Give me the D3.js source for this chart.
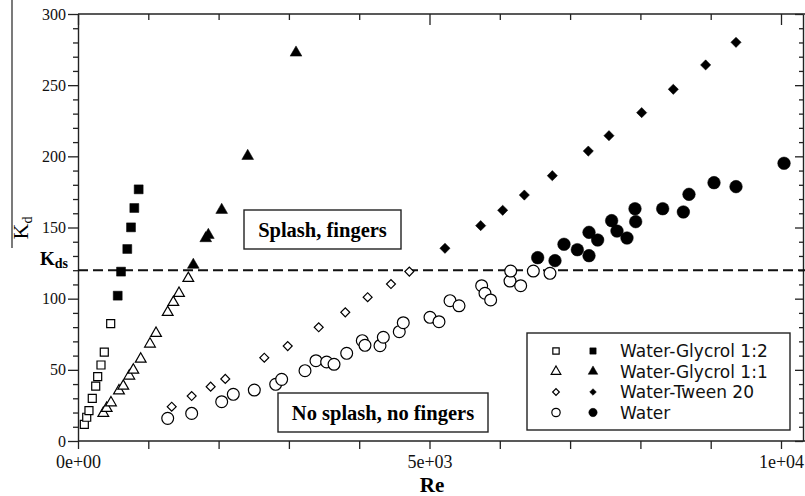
<meta charset="utf-8">
<style>
body { margin: 0; background: #fff; }
svg { display: block; }
.serif { font-family: "Liberation Serif", "Times New Roman", serif; }
.legend text { font-family: "DejaVu Sans", sans-serif; font-size: 17px; }
</style>
<body>
<script src="https://d3js.org/d3.v7.min.js"></script>
<script>
// data: [Re, Kd]
var wg12Open = [[90,11.7],[124,16.7],[156,21.3],[203,30],[252,38.6],[280,45.2],[327,53.4],[374,62.5],[465,82.4]];
var wg12Filled = [[565,102.1],[612,119],[701,134.9],[754,150.1],[801,163.7],[863,176.8]];
var wg11Open = [[360,19.5],[408,23],[469,26.9],[583,35.3],[644,38.6],[730,45.7],[787,49.9],[892,57.6],[1024,68.2],[1110,75.7],[1276,90.4],[1356,97.4],[1437,103.8],[1569,114.3]];
var wg11Filled = [[1640,123.7],[1817,142.4],[1854,144.7],[2044,162.3],[2414,200.2],[3101,272.8]];
var tweenOpen = [[1333,24.1],[1617,31.6],[1887,38.2],[2095,43.6],[2650,58.5],[2983,66.7],[3424,79.9],[3802,90.4],[4120,101],[4452,110.3],[4713,119]];
var tweenFilled = [[5220,135.4],[5728,151.3],[6041,162.1],[6349,172.8],[6747,186.4],[7259,203.7],[7553,214.5],[8018,230.7],[8468,247.1],[8928,264.2],[9360,280.1]];
var waterOpen = [[1276,15.9],[1617,19.4],[2044,27.6],[2209,32.8],[2508,35.8],[2812,39.8],[2897,43.3],[3229,49.4],[3385,56.4],[3537,55.5],[3642,53.9],[3822,61.6],[4044,70.5],[4082,67.2],[4296,67],[4343,72.9],[4570,76.8],[4627,83.1],[5007,86.9],[5135,83.8],[5292,98.6],[5420,95],[5742,109.1],[5789,103.8],[5870,99.1],[6145,112.4],[6155,119.4],[6297,109.1],[6477,119.4],[6714,117.8]];
var waterFilled = [[6539,128.8],[6785,126.7],[6913,138.2],[7103,134.4],[7269,130.2],[7269,146.6],[7392,141.2],[7591,154.8],[7667,147.5],[7809,142.6],[7923,163.2],[7933,154.1],[8317,163.2],[8611,160.9],[8691,173.3],[9047,181.5],[9360,178.7],[10043,195.1]];

var legendLabels = ["Water-Glycrol 1:2", "Water-Glycrol 1:1", "Water-Tween 20", "Water"];
var xTickLabels = ["0e+00", "5e+03", "1e+04"];
var kds = 120;

var width = 805, height = 496;
var svg = d3.select("body").append("svg")
    .attr("width", width)
    .attr("height", height);

var x = d3.scaleLinear().domain([0, 10000]).range([78, 781]);
var y = d3.scaleLinear().domain([0, 300]).range([441, 14]);

// axes: bottom, left, top, right
var minorX = d3.range(0, 10001, 1000);
var majorX = [0, 5000, 10000];
var minorY = d3.range(0, 301, 10);

var bottomAx = svg.append("g")
    .attr("transform", "translate(0," + y(0) + ")")
    .call(d3.axisBottom(x).tickValues(minorX).tickSizeInner(8).tickSizeOuter(0)
      .tickFormat(function(d) { var i = majorX.indexOf(d); return i < 0 ? "" : xTickLabels[i]; }));
bottomAx.selectAll("text")
    .attr("font-family", "Liberation Serif, serif").attr("font-size", 18)
    .attr("y", 14);

var leftAx = svg.append("g")
    .attr("transform", "translate(" + x(0) + ",0)")
    .call(d3.axisLeft(y).tickValues(minorY).tickSizeInner(5).tickSizeOuter(0)
      .tickFormat(function(d) { return d % 50 === 0 ? d : ""; }));
leftAx.selectAll(".tick line").attr("x2", function(d) { return d % 50 === 0 ? -10 : -5; });
leftAx.selectAll("text")
    .attr("font-family", "Liberation Serif, serif").attr("font-size", 16)
    .attr("x", -12);

var topAx = svg.append("g")
    .attr("transform", "translate(0," + y(300) + ")")
    .call(d3.axisBottom(x).tickValues(minorX).tickSize(6).tickSizeOuter(0).tickFormat(""));
topAx.selectAll(".tick line").attr("y2", function(d) { return d % 5000 === 0 ? 11 : 6; });
topAx.select(".domain").attr("d", "M" + x(0) + ",0H" + width);

var rightAx = svg.append("g")
    .attr("transform", "translate(803,0)")
    .call(d3.axisLeft(y).tickValues(minorY).tickSize(4).tickSizeOuter(0).tickFormat(""));
rightAx.selectAll(".tick line").attr("x2", function(d) { return d % 50 === 0 ? -8 : -4; });

svg.selectAll(".domain").attr("stroke", "#222").attr("stroke-width", 1.4);
svg.selectAll(".tick line").attr("stroke", "#222").attr("stroke-width", 1.3);
svg.selectAll(".tick text").attr("fill", "#111");
bottomAx.select(".domain").attr("d", "M" + x(0) + ",0H" + width);

// stray line at the left edge
svg.append("line")
    .attr("x1", 12).attr("x2", 12)
    .attr("y1", 0).attr("y2", 248)
    .attr("stroke", "#333").attr("stroke-width", 1.3);

// axis titles
svg.append("text").attr("class", "serif")
    .attr("x", 432).attr("y", 492)
    .attr("text-anchor", "middle")
    .style("font-size", "21px").style("font-weight", "bold")
    .text("Re");

var yl = svg.append("text").attr("class", "serif")
    .attr("transform", "translate(28,228) rotate(-90)")
    .attr("text-anchor", "middle")
    .style("font-size", "22px");
yl.append("tspan").text("K");
yl.append("tspan").attr("dy", 4).style("font-size", "14px").text("d");

// Kds threshold
svg.append("line")
    .attr("x1", x(0)).attr("x2", width)
    .attr("y1", y(kds)).attr("y2", y(kds))
    .attr("stroke", "#111").attr("stroke-width", 2)
    .attr("stroke-dasharray", "10,5");

var kl = svg.append("text").attr("class", "serif")
    .attr("x", 40).attr("y", y(kds) - 5)
    .style("font-size", "19px").style("font-weight", "bold");
kl.append("tspan").text("K");
kl.append("tspan").attr("dy", 3).style("font-size", "14px").text("ds");

// region boxes
function regionBox(x0, y0, w, h, label) {
  svg.append("rect")
      .attr("x", x0).attr("y", y0).attr("width", w).attr("height", h)
      .attr("fill", "#fff").attr("stroke", "#222").attr("stroke-width", 1.4);
  svg.append("text").attr("class", "serif")
      .attr("x", x0 + w / 2).attr("y", y0 + h / 2 + 7)
      .attr("text-anchor", "middle")
      .style("font-size", "20.5px").style("font-weight", "bold")
      .text(label);
}
regionBox(244, 210, 157, 39, "Splash, fingers");
regionBox(278, 393, 210, 39, "No splash, no fingers");

// markers
var sq = d3.symbol().type(d3.symbolSquare);
var tri = d3.symbol().type(d3.symbolTriangle);
var circ = d3.symbol().type(d3.symbolCircle);

function drawSeries(data, gen, size, filled, rot) {
  svg.append("g").selectAll("path")
    .data(data)
    .join("path")
      .attr("transform", function(d) {
        return "translate(" + x(d[0]) + "," + y(d[1]) + ")" + (rot ? " rotate(45)" : "");
      })
      .attr("d", gen.size(size)())
      .attr("fill", filled ? "#000" : "#fff")
      .attr("stroke", "#000")
      .attr("stroke-width", filled ? 0.5 : 1.2);
}

drawSeries(waterOpen, circ, 110, false);
drawSeries(waterFilled, circ, 125, true);
drawSeries(tweenOpen, sq, 40, false, true);
drawSeries(tweenFilled, sq, 52, true, true);
drawSeries(wg11Open, tri, 50, false);
drawSeries(wg11Filled, tri, 60, true);
drawSeries(wg12Open, sq, 64, false);
drawSeries(wg12Filled, sq, 80, true);

// legend
var legend = svg.append("g").attr("class", "legend");
legend.append("rect")
    .attr("x", 527).attr("y", 333).attr("width", 263).attr("height", 97)
    .attr("fill", "#fff").attr("stroke", "#222").attr("stroke-width", 1.4);

var legendSyms = [[sq, 40, 0], [tri, 40, 0], [sq, 22, 1], [circ, 55, 0]];
legendLabels.forEach(function(lab, i) {
  var ly = 351 + i * 20.5;
  var s = legendSyms[i];
  [false, true].forEach(function(filled, j) {
    legend.append("path")
        .attr("transform", "translate(" + (556 + j * 37) + "," + ly + ")" + (s[2] ? " rotate(45)" : ""))
        .attr("d", s[0].size(s[1])())
        .attr("fill", filled ? "#000" : "#fff")
        .attr("stroke", "#000")
        .attr("stroke-width", filled ? 0.5 : 1.2);
  });
  legend.append("text")
      .attr("x", 620).attr("y", ly + 6)
      .attr("fill", "#111")
      .text(lab);
});
</script>
</body>
